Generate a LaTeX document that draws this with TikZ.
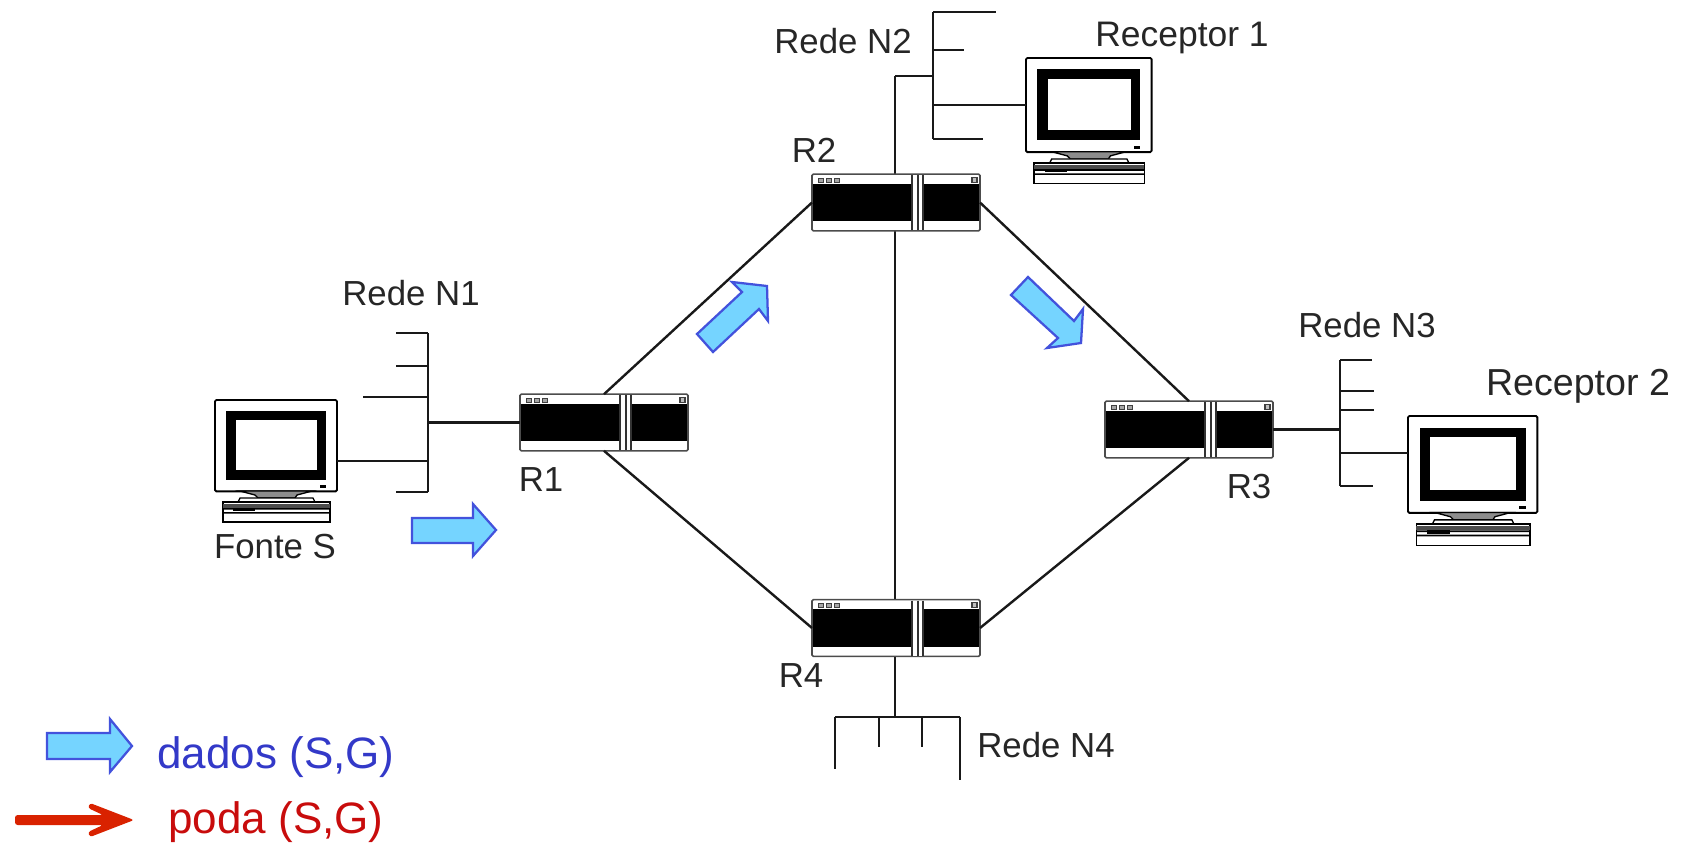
\documentclass[tikz,border=0pt]{standalone}
\usepackage{fontspec}
\setmainfont{Liberation Sans}
\definecolor{flowfill}{HTML}{75D4FF}
\definecolor{flowline}{HTML}{4352DC}
\definecolor{legblue}{HTML}{3339C8}
\definecolor{legred}{HTML}{C80C0C}
\definecolor{prunered}{HTML}{D92200}
\tikzset{
  link/.style={draw=black!90,line width=1.8pt},
  routerbody/.style={draw=black!70,line width=1.2pt,fill=white,rounded corners=1pt,inner sep=0pt,outer sep=0pt,minimum width=126pt,minimum height=42.5pt},
  monitor/.style={draw=black,line width=1.4pt,fill=white,rounded corners=1pt,inner sep=0pt,outer sep=0pt,minimum width=91.5pt,minimum height=68.5pt,anchor=north west},
  lbl/.style={font=\fontsize{26.1}{30}\selectfont,text=black!85,anchor=base,inner sep=0pt},
  leg/.style={font=\fontsize{33}{38}\selectfont,anchor=base,inner sep=0pt},
  flowarrow/.style={draw=flowline,fill=flowfill,line width=1.7pt,line join=miter}
}
\newcommand{\routerbox}[3]{%
  \node[routerbody] (#1) at (#2,#3) {};
  \begin{scope}[shift={(#1.north west)}]
    \fill[black] (1,9.5) rectangle (167,47);
    \fill[white] (100,1) rectangle (111,56);
    \draw[black!80,line width=1.2pt] (100,1) -- (100,56) (106,1) -- (106,56) (111,1) -- (111,56);
    \foreach \q in {6,14,22}{\draw[black!75,line width=.6pt,fill=black!35] (\q,4) rectangle +(5,4);}
    \draw[black!75,line width=.8pt,fill=black!25] (160,3) rectangle +(5,5);
  \end{scope}}
\newcommand{\computer}[4]{%
  \begin{scope}[shift={(#2,#3)},scale=#4,transform shape]
    \node[monitor] (#1) at (0,0) {};
    \fill[black] (11,11) rectangle (111,80);
    \fill[white] (21,20) rectangle (102,70);
    \fill[black] (105,85) rectangle (111,88);
    \draw[black,line width=1pt,fill=black!45] (25,91) -- (40,95) -- (43,98) -- (80,98) -- (82,95) -- (97,91) -- cycle;
    \draw[black,line width=1pt,fill=white] (23,102) -- (25,98) -- (98,98) -- (100,102) -- cycle;
    \draw[black,line width=1.2pt,fill=white] (8,102) rectangle (115,122);
    \fill[black!70] (8,104) rectangle (115,108);
    \fill[black] (8,108) rectangle (115,109.5) (8,112) rectangle (115,113.5);
    \fill[black] (18,108) rectangle (40,111);
  \end{scope}}
\begin{document}
\begin{tikzpicture}[x=0.75pt,y=-0.75pt]
\useasboundingbox (0,0) rectangle (1681,844);
% bus coordinates
\coordinate (n1t) at (428,333); \coordinate (n1b) at (428,492);
\coordinate (n1a) at (428,366); \coordinate (n1c) at (428,397); \coordinate (n1h) at (428,461); \coordinate (n1r) at (428,422.5);
\coordinate (n2t) at (933,12); \coordinate (n2b) at (933,139);
\coordinate (n2a) at (933,50); \coordinate (n2h) at (933,105); \coordinate (n2j) at (933,76);
\coordinate (coret) at (895,76); \coordinate (coreb) at (895,717);
\coordinate (n3t) at (1340,360); \coordinate (n3b) at (1340,486);
\coordinate (n3a) at (1340,391); \coordinate (n3c) at (1340,410); \coordinate (n3h) at (1340,453); \coordinate (n3r) at (1340,429.5);
\coordinate (n4l) at (835,717); \coordinate (n4r) at (960,717);
\coordinate (n4a) at (879,717); \coordinate (n4b) at (922,717);
% network lines behind the routers
\draw[link] (coret) -- (coreb);
\draw[link] (coret) -- (n2j);
\draw[link] (n2t) -- (n2b);
\draw[link] (n2t) -- (996,12) (n2a) -- (964,50) (n2b) -- (983,139);
\draw[link] (n1t) -- (n1b);
\draw[link] (n1t) -- (396,333) (n1a) -- (396,366) (n1c) -- (363,397) (n1b) -- (396,492);
\draw[link] (n3t) -- (n3b);
\draw[link] (n3t) -- (1372,360) (n3a) -- (1374,391) (n3c) -- (1374,410) (n3b) -- (1373,486);
\draw[link] (n4l) -- (n4r);
\draw[link] (n4l) -- (835,769) (n4a) -- (879,747) (n4b) -- (922,747) (n4r) -- (960,780);
% routers
\routerbox{r1}{604}{422.5}
\routerbox{r2}{896}{202.5}
\routerbox{r3}{1189}{429.5}
\routerbox{r4}{896}{628}
% computers
\computer{src}{215}{400}{1}
\computer{rcv1}{1026}{58}{1.03}
\computer{rcv2}{1408}{416}{1.06}
% connectors
\draw[link] (r1.north) -- (r2.west);
\draw[link] (r2.east) -- (r3.north);
\draw[link] (r1.south) -- (r4.west);
\draw[link] (r4.east) -- (r3.south);
\draw[link] (n1r) -- (r1.west);
\draw[link] (r3.east) -- (n3r);
\draw[link] (n1h) -- (src.east |- n1h);
\draw[link] (n2h) -- (rcv1.west |- n2h);
\draw[link] (n3h) -- (rcv2.west |- n3h);
% flow arrows
\draw[flowarrow] (412,518) -- (473,518) -- (473,504) -- (496,530) -- (473,556) -- (473,543) -- (412,543) -- cycle;
\draw[flowarrow] (697,334) -- (742,292) -- (732,282) -- (767,286) -- (768,321) -- (759,309) -- (713,352) -- cycle;
\draw[flowarrow] (1028,277) -- (1074,321) -- (1083,309) -- (1081,343) -- (1047,348) -- (1058,338) -- (1011,295) -- cycle;
\draw[flowarrow] (47,733) -- (110,733) -- (110,719) -- (132,746) -- (110,772) -- (110,759) -- (47,759) -- cycle;
% prune legend arrow
\fill[prunered,rounded corners=2pt] (15,815) -- (103,815) -- (88,808) -- (90,803) -- (134,820) -- (90,837) -- (88,832) -- (103,825) -- (15,825) -- cycle;
% labels
\node[lbl] (tn1) at (411,305) {Rede N1};
\node[lbl] (tn2) at (843,53) {Rede N2};
\node[lbl,font=\fontsize{26.6}{30}\selectfont] (tr1) at (1182,46) {Receptor 1};
\node[lbl] (tn3) at (1367,337) {Rede N3};
\node[lbl,font=\fontsize{28.2}{32}\selectfont] (tr2) at (1578,395) {Receptor 2};
\node[lbl] (ts) at (275,558) {Fonte S};
\node[lbl] (tl1) at (541,491) {R1};
\node[lbl] (tl2) at (814,162) {R2};
\node[lbl] (tl3) at (1249,498) {R3};
\node[lbl] (tl4) at (801,687) {R4};
\node[lbl] (tn4) at (1046,757) {Rede N4};
\node[leg,text=legblue] (tdata) at (276,768) {dados (S,G)};
\node[leg,text=legred] (tprune) at (276,833) {poda (S,G)};
\end{tikzpicture}
\end{document}
